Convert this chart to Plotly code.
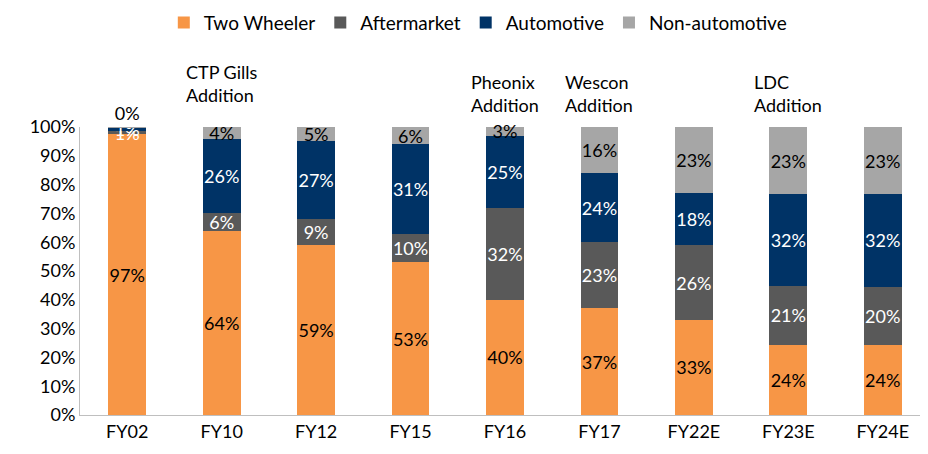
import plotly.graph_objects as go

categories = ["FY02", "FY10", "FY12", "FY15", "FY16", "FY17", "FY22E", "FY23E", "FY24E"]
two_wheeler = [97.4, 64, 59, 53, 40, 37, 33, 24.3, 24.3]
aftermarket = [1.2, 6, 9, 10, 32, 23, 26, 20.6, 20.2]
automotive = [1.1, 26, 27, 31, 25, 24, 18, 31.8, 32.2]
non_automotive = [0.3, 4, 5, 6, 3, 16, 23, 23.3, 23.3]

events = [("FY10", "CTP Gills<br>Addition", 1.15),
          ("FY16", "Pheonix<br>Addition", 1.115),
          ("FY17", "Wescon<br>Addition", 1.115),
          ("FY23E", "LDC<br>Addition", 1.115)]

FONT = "Lato"
series = [
    ("Two Wheeler", two_wheeler, "#F79646", "black"),
    ("Aftermarket", aftermarket, "#595959", "white"),
    ("Automotive", automotive, "#003366", "white"),
    ("Non-automotive", non_automotive, "#A6A6A6", "black"),
]

fig = go.Figure()
for name, vals, color, tcolor in series:
    pos = "inside"
    if name == "Non-automotive":
        pos = ["outside" if v < 1 else "inside" for v in vals]
    fig.add_trace(go.Bar(
        name=name, x=categories, y=[v / 100 for v in vals],
        marker=dict(color=color, line=dict(width=0)),
        text=[f"{round(v)}%" for v in vals],
        textposition=pos, insidetextanchor="middle", textangle=0,
        constraintext="none",
        textfont=dict(color=tcolor, size=18, family=FONT),
        outsidetextfont=dict(color="black", size=18, family=FONT),
        cliponaxis=False,
    ))

for cat, txt, yy in events:
    fig.add_annotation(x=cat, y=yy, xref="x", yref="paper", text=txt, showarrow=False,
                       font=dict(size=18, family=FONT, color="black"), align="left",
                       xanchor="center", yanchor="middle")

fig.update_layout(
    width=928, height=454,
    barmode="stack", bargap=0.6,
    plot_bgcolor="white", paper_bgcolor="white",
    margin=dict(l=72, r=6, t=119, b=47, autoexpand=False),
    font=dict(family=FONT, size=18, color="black"),
    legend=dict(orientation="h", x=0.468, xanchor="center", y=1.362, yanchor="middle",
                font=dict(size=19, family=FONT), traceorder="normal",
                itemwidth=30),
    showlegend=True,
)
fig.update_yaxes(range=[0, 1], tickvals=[i / 10 for i in range(11)],
                 tickformat=".0%", showgrid=False, showline=True, linecolor="#BFBFBF",
                 linewidth=1, ticks="", zeroline=False, tickfont=dict(size=18, family=FONT))
fig.update_xaxes(showline=True, linecolor="#BFBFBF", linewidth=1, ticks="",
                 tickfont=dict(size=18, family=FONT))

fig.write_html("out.html")
